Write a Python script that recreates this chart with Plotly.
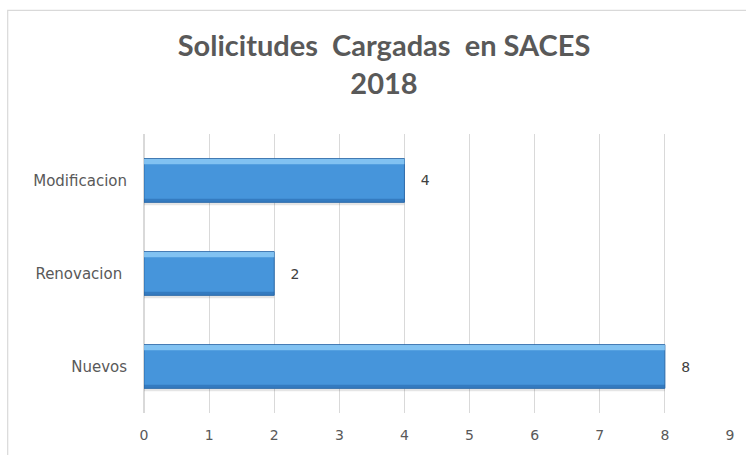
import plotly.graph_objects as go

categories = ["Nuevos", "Renovacion ", "Modificacion"]
values = [8, 2, 4]
x_ticks = [0, 1, 2, 3, 4, 5, 6, 7, 8, 9]
title_lines = ["Solicitudes  Cargadas  en SACES", "2018"]

BAR_W = 0.47
fig = go.Figure()
# soft shadow under bars
fig.add_trace(go.Bar(
    y=categories, x=values, orientation="h", width=0.035, offset=-BAR_W / 2 - 0.03,
    marker=dict(color="rgba(0,0,0,0.10)", line=dict(width=0)),
    hoverinfo="skip", showlegend=False,
))
fig.add_trace(go.Bar(
    y=categories, x=values, orientation="h", width=BAR_W,
    marker=dict(color="#4695DB", line=dict(color="#2F6CAA", width=1)),
    texttemplate="   %{x}", textposition="outside", constraintext="none",
    textfont=dict(family="DejaVu Sans", size=14, color="#404040"),
    cliponaxis=False, showlegend=False,
))
# light top band and dark bottom band to mimic the bevel gradient
fig.add_trace(go.Bar(
    y=categories, x=values, orientation="h", width=0.055, offset=BAR_W / 2 - 0.06,
    marker=dict(color="rgba(150,210,250,0.75)", line=dict(width=0)),
    hoverinfo="skip", showlegend=False,
))
fig.add_trace(go.Bar(
    y=categories, x=values, orientation="h", width=0.035, offset=-BAR_W / 2 + 0.005,
    marker=dict(color="rgba(30,90,160,0.45)", line=dict(width=0)),
    hoverinfo="skip", showlegend=False,
))

fig.update_layout(
    barmode="overlay",
    width=746, height=455,
    margin=dict(l=144, r=13, t=134, b=41),
    paper_bgcolor="white", plot_bgcolor="white",
    title=dict(
        text="<b>" + "<br>".join(title_lines) + "</b>",
        x=384 / 746, xanchor="center", xref="container",
        y=1 - 56 / 455, yanchor="middle", yref="container",
        font=dict(family="Lato", size=29, color="#595959"),
    ),
    xaxis=dict(
        range=[0, 9], tickvals=x_ticks, showgrid=True, gridcolor="#D9D9D9", gridwidth=1,
        zeroline=True, zerolinecolor="#D9D9D9", showline=False,
        tickfont=dict(family="DejaVu Sans", size=14, color="#595959"),
        ticks="outside", ticklen=9, tickcolor="rgba(0,0,0,0)",
    ),
    yaxis=dict(
        showgrid=False, showline=False, ticks="", zeroline=False,
        tickfont=dict(family="DejaVu Sans", size=15, color="#595959"),
        ticklabelstandoff=16,
    ),
    shapes=[dict(
        type="rect", xref="paper", yref="paper",
        x0=(7 - 144) / 589, x1=1.2, y0=-0.6, y1=(414 - 10) / 280,
        line=dict(color="#D9D9D9", width=1.2), fillcolor="rgba(0,0,0,0)", layer="below",
    )],
)

fig.write_html("out.html", config={"displayModeBar": False},
               post_script="document.body.style.margin='0';")
